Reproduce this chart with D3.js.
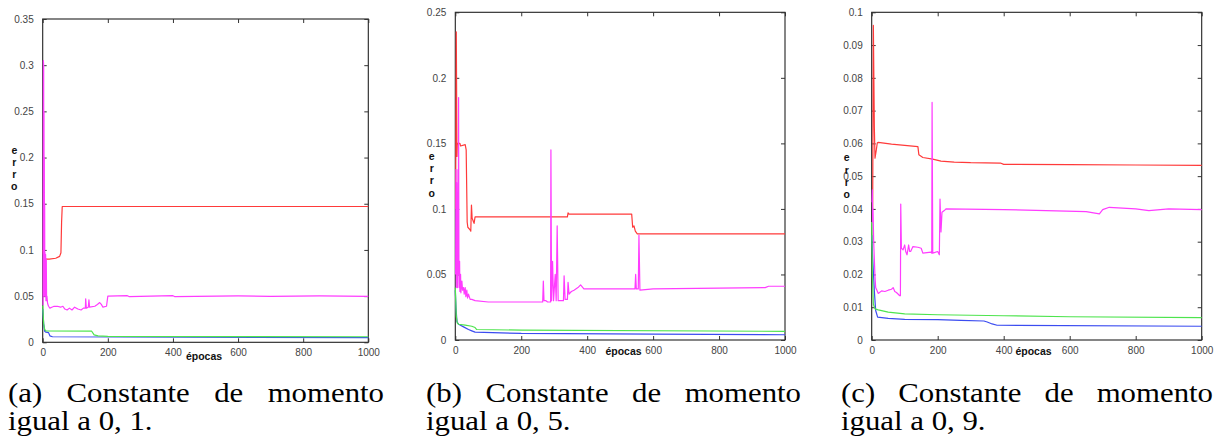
<!DOCTYPE html>
<html>
<head>
<meta charset="utf-8">
<script src="https://cdn.jsdelivr.net/npm/d3@7"></script>
<style>
  body { margin: 0; background: #fff; }
  svg { display: block; }
  .cap text { font-family: "Liberation Serif", "DejaVu Serif", "Times New Roman", serif; font-size: 28px; }
</style>
</head>
<body>
<div id="chart"></div>
<script>
// ---- data: [epoch, erro] ----
const xTicks = [0, 200, 400, 600, 800, 1000];

// (a) momento 0,1
const yTicksA = [0, 0.05, 0.1, 0.15, 0.2, 0.25, 0.3, 0.35];
const redA = [[1,0.1],[4,0.09],[20,0.09],[40,0.091],[52,0.093],[56,0.097],[58,0.13],[60,0.147],[1000,0.147]];
const magentaA = [[1,0.04],[2,0.305],[3,0.3],[3.5,0.06],[4,0.25],[4.5,0.05],[5,0.2],[5.5,0.06],[6,0.15],[6.5,0.05],[7,0.097],[8,0.05],[9,0.095],[10,0.045],[11,0.09],[12,0.045],[13,0.05],[15,0.042],[18,0.039],[22,0.037],[28,0.038],[35,0.039],[45,0.039],[55,0.038],[62,0.039],[68,0.036],[75,0.035],[82,0.037],[90,0.035],[98,0.038],[108,0.036],[118,0.035],[125,0.037],[131,0.037],[132,0.047],[134,0.037],[140,0.038],[142,0.046],[144,0.038],[160,0.039],[168,0.041],[175,0.043],[180,0.041],[185,0.038],[196,0.039],[200,0.05],[260,0.0505],[265,0.0495],[400,0.0505],[405,0.0495],[600,0.0502],[700,0.0498],[850,0.0502],[1000,0.0497]];
const greenA = [[0,0.04],[3,0.02],[6,0.014],[10,0.0123],[150,0.0122],[158,0.008],[170,0.007],[200,0.0065],[1000,0.006]];
const blueA = [[0,0.036],[3,0.02],[6,0.012],[10,0.011],[18,0.0105],[22,0.007],[30,0.006],[1000,0.005]];

// (b) momento 0,5
const yTicksB = [0, 0.05, 0.1, 0.15, 0.2, 0.25];
const redB = [[1,0.1],[3,0.235],[5,0.14],[6,0.15],[14,0.15],[16,0.148],[30,0.149],[33,0.145],[36,0.09],[38,0.086],[45,0.084],[47,0.083],[49,0.103],[51,0.093],[54,0.091],[57,0.089],[60,0.094],[340,0.094],[342,0.097],[345,0.096],[535,0.096],[538,0.086],[542,0.087],[546,0.083],[552,0.081],[1000,0.081]];
const magentaB = [[1,0.05],[2,0.13],[3,0.04],[4,0.12],[5,0.05],[6,0.1],[7,0.04],[8,0.13],[9,0.05],[10,0.185],[11,0.06],[12,0.04],[13,0.06],[14,0.037],[16,0.05],[17,0.036],[20,0.045],[22,0.038],[25,0.04],[27,0.035],[30,0.04],[32,0.033],[35,0.038],[37,0.032],[40,0.035],[45,0.031],[50,0.031],[60,0.03],[100,0.029],[200,0.029],[265,0.029],[267,0.045],[269,0.03],[275,0.03],[280,0.029],[289,0.029],[290,0.145],[292,0.03],[295,0.06],[298,0.03],[303,0.05],[306,0.03],[309,0.087],[312,0.03],[328,0.03],[330,0.049],[333,0.031],[340,0.031],[342,0.044],[345,0.035],[352,0.037],[360,0.038],[372,0.04],[380,0.042],[390,0.039],[545,0.039],[547,0.05],[549,0.039],[555,0.039],[557,0.08],[560,0.038],[600,0.039],[800,0.0395],[940,0.04],[950,0.041],[1000,0.041]];
const greenB = [[0,0.04],[3,0.018],[6,0.013],[10,0.012],[30,0.0114],[50,0.0105],[60,0.0095],[65,0.008],[200,0.0075],[1000,0.0066]];
const blueB = [[0,0.038],[2,0.025],[5,0.014],[10,0.012],[25,0.01],[40,0.008],[50,0.007],[60,0.006],[200,0.005],[600,0.0045],[1000,0.004]];

// (c) momento 0,9
const yTicksC = [0, 0.01, 0.02, 0.03, 0.04, 0.05, 0.06, 0.07, 0.08, 0.09, 0.1];
const redC = [[1,0.04],[3,0.04],[5,0.096],[8,0.065],[10,0.0555],[14,0.058],[17,0.0602],[20,0.0603],[60,0.0598],[140,0.059],[143,0.0565],[155,0.0557],[185,0.0552],[210,0.0546],[250,0.0543],[300,0.0541],[390,0.054],[400,0.0536],[600,0.0535],[800,0.0534],[1000,0.0533]];
const magentaC = [[1,0.042],[2,0.0458],[3,0.036],[4,0.04],[6,0.03],[10,0.0193],[12,0.016],[20,0.0142],[30,0.015],[40,0.0148],[50,0.0152],[60,0.0155],[65,0.016],[70,0.0148],[75,0.0145],[85,0.0135],[87,0.0135],[88,0.0415],[90,0.028],[95,0.0275],[100,0.029],[103,0.027],[107,0.026],[112,0.029],[115,0.027],[118,0.027],[125,0.0285],[140,0.0283],[150,0.028],[155,0.0265],[180,0.0268],[182,0.0265],[183,0.0725],[185,0.0265],[200,0.027],[205,0.026],[207,0.043],[210,0.033],[213,0.039],[220,0.0395],[225,0.04],[400,0.0398],[650,0.0392],[690,0.0385],[700,0.0398],[720,0.0405],[800,0.04],[840,0.0395],[900,0.04],[1000,0.0398]];
const greenC = [[0,0.036],[2,0.02],[5,0.011],[10,0.0095],[20,0.0092],[50,0.0085],[100,0.008],[200,0.0077],[400,0.0074],[600,0.0071],[1000,0.0068]];
const blueC = [[0,0.032],[3,0.025],[8,0.015],[12,0.009],[18,0.007],[50,0.0066],[100,0.0063],[200,0.0062],[270,0.006],[340,0.0058],[350,0.0055],[365,0.0049],[380,0.0045],[1000,0.0042]];

const captionLine1 = ["(a) Constante de momento", "(b) Constante de momento", "(c) Constante de momento"];
const captionLine2 = ["igual a 0, 1.", "igual a 0, 5.", "igual a 0, 9."];

// ---- layout ----
const svg = d3.select("#chart").append("svg")
  .attr("width", 1221).attr("height", 445);

const colors = { red: "#ff3a3a", magenta: "#ff3cff", green: "#4ee44e", blue: "#3b4cf0" };

const panels = [
  { box: { left: 42.7, right: 368.3, top: 19, bottom: 342.3 }, yMax: 0.35, yTicks: yTicksA,
    series: [[blueA, "blue"], [greenA, "green"], [redA, "red"], [magentaA, "magenta"]],
    erro: { x: 14.3, y: [150, 162, 173.5, 186] }, epocasX: 204, epocasY: 356, cap: { x: 8, right: 384 } },
  { box: { left: 455.3, right: 785, top: 12.3, bottom: 340 }, yMax: 0.25, yTicks: yTicksB,
    series: [[blueB, "blue"], [greenB, "green"], [redB, "red"], [magentaB, "magenta"]],
    erro: { x: 431.7, y: [156, 168, 180, 193] }, epocasX: 623.5, epocasY: 351, cap: { x: 426, right: 801 } },
  { box: { left: 871.7, right: 1201.7, top: 12.3, bottom: 340 }, yMax: 0.1, yTicks: yTicksC,
    series: [[blueC, "blue"], [greenC, "green"], [redC, "red"], [magentaC, "magenta"]],
    erro: { x: 846.7, y: [157.3, 170, 181.7, 194.3] }, epocasX: 1033.5, epocasY: 351, cap: { x: 841, right: 1213 } }
];

const fmt = d => d === 0 ? "0" : String(+d.toFixed(3));
const capStretch = 1.1; // the original caption font runs wider than Liberation Serif

panels.forEach((p, i) => {
  const b = p.box;
  const x = d3.scaleLinear().domain([0, 1000]).range([b.left, b.right]);
  const y = d3.scaleLinear().domain([0, p.yMax]).range([b.bottom, b.top]);
  const g = svg.append("g");

  // frame first, lines drawn over it
  g.append("rect")
    .attr("x", b.left).attr("y", b.top)
    .attr("width", b.right - b.left).attr("height", b.bottom - b.top)
    .attr("fill", "none").attr("stroke", "#222").attr("stroke-width", 1.1);

  // mirrored inward ticks on all sides
  const tk = 4;
  g.append("g").attr("transform", `translate(0,${b.bottom})`)
    .call(d3.axisBottom(x).tickValues(xTicks).tickFormat(fmt).tickSizeInner(-tk).tickSizeOuter(0).tickPadding(7))
    .call(a => a.select(".domain").remove());
  g.append("g").attr("transform", `translate(0,${b.top})`)
    .call(d3.axisTop(x).tickValues(xTicks).tickFormat("").tickSizeInner(-tk).tickSizeOuter(0))
    .call(a => a.select(".domain").remove());
  g.append("g").attr("transform", `translate(${b.left},0)`)
    .call(d3.axisLeft(y).tickValues(p.yTicks).tickFormat(fmt).tickSizeInner(-tk).tickSizeOuter(0).tickPadding(9))
    .call(a => a.select(".domain").remove());
  g.append("g").attr("transform", `translate(${b.right},0)`)
    .call(d3.axisRight(y).tickValues(p.yTicks).tickFormat("").tickSizeInner(-tk).tickSizeOuter(0))
    .call(a => a.select(".domain").remove());

  g.selectAll(".tick line").attr("stroke", "#333").attr("stroke-width", 1);
  g.selectAll(".tick text").attr("fill", "#444")
    .style("font-family", "'Liberation Sans', Arial, sans-serif").style("font-size", "10px");

  // lines
  const line = d3.line().x(d => x(d[0])).y(d => y(d[1]));
  p.series.forEach(([data, c]) => {
    g.append("path").datum(data)
      .attr("fill", "none")
      .attr("stroke", colors[c])
      .attr("stroke-width", 1.2)
      .attr("stroke-linejoin", "round")
      .attr("d", line);
  });

  // axis titles
  g.selectAll(".erro").data(["e", "r", "r", "o"]).enter().append("text")
    .attr("x", p.erro.x).attr("y", (d, k) => p.erro.y[k])
    .attr("text-anchor", "middle").attr("dominant-baseline", "central")
    .style("font-family", "'Liberation Sans', Arial, sans-serif")
    .style("font-size", "10.5px").style("font-weight", "bold").attr("fill", "#111")
    .text(d => d);
  g.append("text")
    .attr("x", p.epocasX).attr("y", p.epocasY)
    .attr("text-anchor", "middle").attr("dominant-baseline", "central")
    .style("font-family", "'Liberation Sans', Arial, sans-serif")
    .style("font-size", "10.5px").style("font-weight", "bold").attr("fill", "#111")
    .text("épocas");

  // caption: first line justified word by word, second line left-aligned
  const cap = svg.append("g").attr("class", "cap").attr("fill", "#000");
  const words = captionLine1[i].split(" ");
  const wNodes = words.map(w => cap.append("text").attr("y", 402).text(w));
  const widths = wNodes.map(n => n.node().getComputedTextLength() * capStretch);
  wNodes.forEach((n, k) => n.attr("textLength", widths[k]).attr("lengthAdjust", "spacingAndGlyphs"));
  const gap = (p.cap.right - p.cap.x - d3.sum(widths)) / (words.length - 1);
  let cx = p.cap.x;
  wNodes.forEach((n, k) => { n.attr("x", cx); cx += widths[k] + gap; });
  const l2 = cap.append("text").attr("x", p.cap.x).attr("y", 429.5).text(captionLine2[i]);
  l2.attr("textLength", l2.node().getComputedTextLength() * capStretch).attr("lengthAdjust", "spacingAndGlyphs");
});
</script>
</body>
</html>
